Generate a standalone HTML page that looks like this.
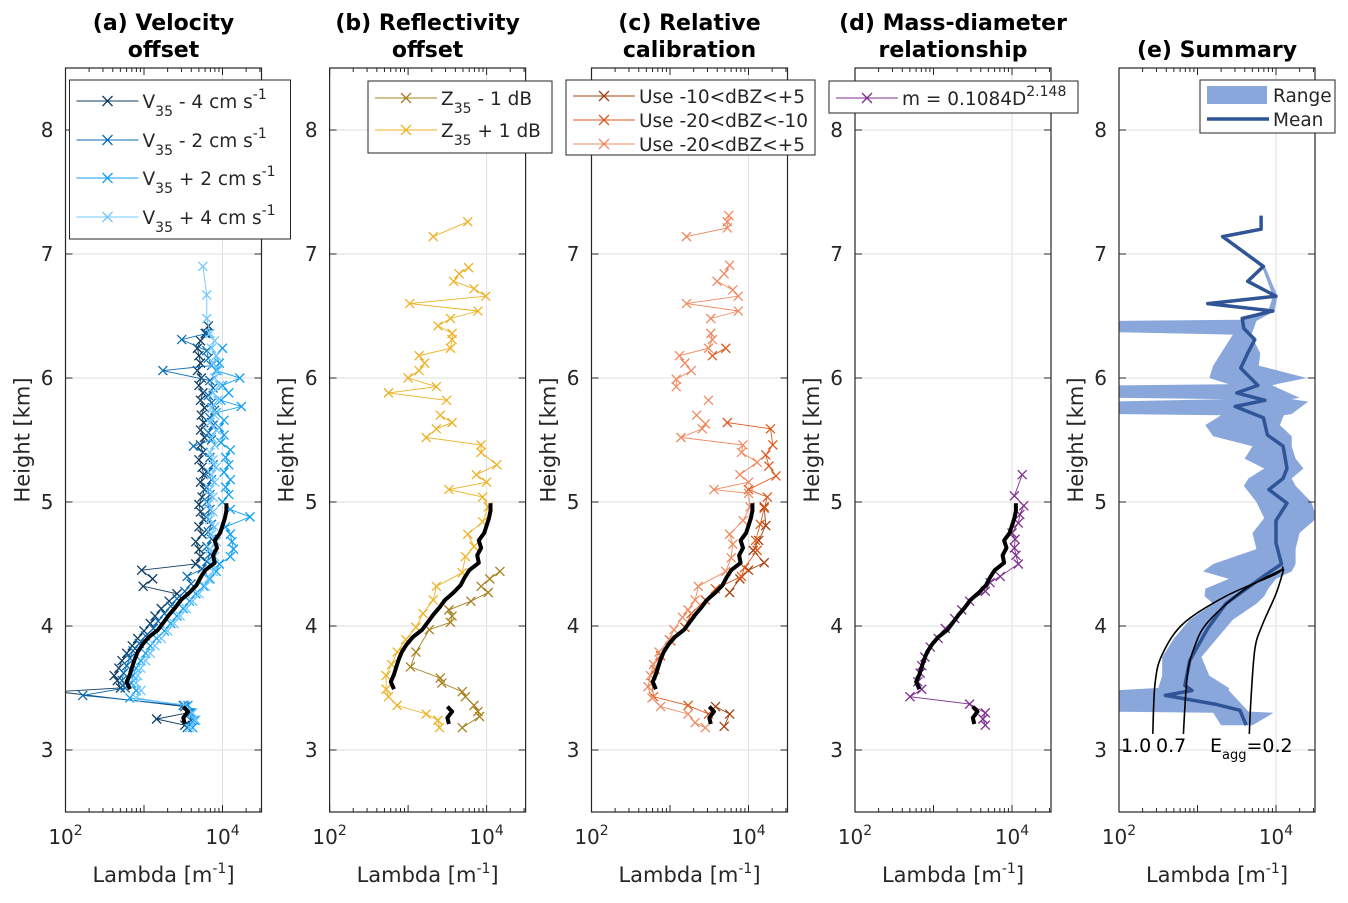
<!DOCTYPE html>
<html><head><meta charset="utf-8"><style>
html,body{margin:0;padding:0;background:#fff;}
svg text{font-family:"DejaVu Sans","Liberation Sans",sans-serif;fill:#262626;}
</style></head><body>
<svg id="fig" width="1348" height="898" viewBox="0 0 1348 898" xmlns="http://www.w3.org/2000/svg"></svg>
<script>
// ---------- data (log10 of Lambda [m^-1], height km) ----------
const meanLog = [2.82,2.78,2.82,2.85,2.88,2.92,2.98,3.06,3.18,3.25,3.32,3.40,3.47,3.58,3.67,3.72,3.78,3.90,3.88,3.93,3.90,3.97,4.00,4.03,4.05,4.05];
const meanH   = [3.49,3.55,3.61,3.67,3.73,3.79,3.85,3.91,3.97,4.03,4.09,4.15,4.21,4.27,4.33,4.39,4.45,4.51,4.57,4.63,4.69,4.75,4.81,4.87,4.93,4.99];
const meanLowLog = [3.52,3.50,3.56,3.50];
const meanLowH   = [3.21,3.26,3.31,3.35];

const velM4 = [[3.52,3.20],[3.16,3.25],[3.56,3.30],[3.52,3.35],[1.9,3.47],[2.70,3.50],[2.66,3.56],[2.62,3.60],[2.68,3.66],[2.72,3.72],[2.78,3.78],[2.85,3.84],[2.92,3.90],[3.00,3.96],[3.08,4.02],[3.14,4.08],[3.22,4.14],[3.32,4.20],[3.42,4.26],[2.99,4.32],[3.11,4.38],[2.97,4.45],[3.66,4.50],[3.72,4.56],[3.70,4.62],[3.66,4.68],[3.74,4.74],[3.70,4.80],[3.76,4.86],[3.72,4.92],[3.70,4.98],[3.74,5.04],[3.77,5.10],[3.72,5.16],[3.76,5.22],[3.74,5.28],[3.70,5.34],[3.75,5.40],[3.72,5.46],[3.77,5.52],[3.72,5.58],[3.76,5.64],[3.73,5.70],[3.77,5.76],[3.72,5.82],[3.75,5.88],[3.70,5.94],[3.73,6.00],[3.68,6.06],[3.72,6.12],[3.70,6.18],[3.68,6.24],[3.72,6.30],[3.78,6.36],[3.82,6.42]];
const velM2 = [[3.55,3.18],[3.60,3.24],[3.58,3.30],[3.50,3.36],[2.22,3.44],[2.76,3.50],[2.72,3.56],[2.74,3.62],[2.78,3.68],[2.82,3.74],[2.86,3.80],[2.94,3.86],[3.02,3.92],[3.12,3.98],[3.18,4.04],[3.26,4.10],[3.34,4.16],[3.42,4.22],[3.52,4.28],[3.60,4.34],[3.55,4.40],[3.74,4.46],[3.80,4.52],[3.84,4.58],[3.80,4.64],[3.86,4.70],[3.82,4.76],[3.86,4.82],[3.80,4.88],[3.84,4.94],[3.80,5.00],[3.84,5.06],[3.80,5.12],[3.86,5.18],[3.82,5.24],[3.88,5.30],[3.84,5.36],[3.63,5.45],[3.86,5.50],[3.82,5.56],[3.88,5.62],[3.84,5.68],[3.90,5.74],[3.86,5.80],[3.82,5.86],[3.88,5.92],[3.84,5.98],[3.24,6.06],[3.86,6.10],[3.82,6.16],[3.80,6.22],[3.48,6.31],[3.80,6.36]];
const velP2 = [[3.62,3.18],[3.64,3.24],[3.60,3.30],[3.56,3.36],[2.82,3.42],[2.90,3.48],[2.84,3.54],[2.86,3.60],[2.90,3.66],[2.96,3.72],[3.02,3.78],[3.08,3.84],[3.16,3.90],[3.26,3.96],[3.34,4.02],[3.42,4.08],[3.50,4.14],[3.58,4.20],[3.66,4.26],[3.76,4.32],[3.84,4.38],[3.92,4.44],[3.96,4.50],[4.10,4.56],[4.14,4.62],[4.12,4.68],[4.10,4.74],[4.04,4.80],[4.35,4.88],[4.10,4.94],[4.00,5.00],[4.08,5.06],[4.04,5.12],[4.10,5.18],[4.02,5.24],[4.08,5.30],[4.04,5.36],[4.10,5.42],[3.98,5.48],[4.02,5.54],[3.96,5.60],[4.02,5.66],[3.92,5.72],[4.24,5.77],[3.98,5.82],[4.08,5.88],[4.00,5.94],[4.22,6.00],[3.92,6.06],[3.96,6.12],[3.92,6.18],[4.00,6.24]];
const velP4 = [[3.58,3.18],[3.66,3.24],[3.62,3.30],[3.52,3.36],[2.90,3.42],[2.96,3.48],[2.90,3.54],[2.92,3.60],[2.96,3.66],[3.02,3.72],[3.08,3.78],[3.14,3.84],[3.22,3.90],[3.30,3.96],[3.38,4.02],[3.46,4.08],[3.54,4.14],[3.62,4.20],[3.70,4.26],[3.78,4.32],[3.82,4.38],[3.88,4.44],[3.86,4.50],[3.90,4.56],[3.84,4.62],[3.92,4.68],[3.86,4.74],[3.90,4.80],[3.84,4.86],[3.88,4.92],[3.82,4.98],[3.88,5.04],[3.84,5.10],[3.90,5.16],[3.86,5.22],[3.92,5.28],[3.88,5.34],[3.84,5.40],[3.90,5.46],[3.86,5.52],[3.92,5.58],[3.84,5.64],[3.90,5.70],[3.86,5.76],[3.94,5.82],[3.88,5.88],[3.96,5.94],[3.90,6.00],[3.94,6.06],[3.88,6.12],[3.92,6.18],[3.86,6.24],[3.90,6.30],[3.84,6.36],[3.80,6.48],[3.80,6.67],[3.75,6.90]];

const refM1 = [[4.17,4.44],[4.04,4.38],[3.93,4.32],[4.02,4.27],[3.80,4.20],[3.52,4.13],[3.56,4.08],[3.54,4.03],[3.27,3.97],[3.10,3.79],[3.03,3.67],[3.41,3.58],[3.43,3.54],[3.69,3.47],[3.73,3.43],[3.84,3.36],[3.89,3.31],[3.91,3.27],[3.69,3.18]];
const refP1 = [[3.76,7.26],[3.32,7.14],null,[3.77,6.89],[3.65,6.84],[3.58,6.78],[3.84,6.72],[3.99,6.66],[3.02,6.60],[3.89,6.54],[3.54,6.48],[3.38,6.42],[3.56,6.36],[3.56,6.31],[3.54,6.24],[3.14,6.18],[3.21,6.12],[3.14,6.06],[3.00,6.00],[3.36,5.93],[2.75,5.88],[3.49,5.82],null,[3.41,5.70],[3.56,5.64],[3.36,5.59],[3.23,5.52],[3.93,5.46],[3.93,5.40],[4.13,5.30],[3.87,5.22],[4.00,5.16],[3.52,5.10],[3.95,5.04],[4.02,4.96],[3.95,4.84],[3.76,4.74],[3.84,4.64],[3.73,4.56],[3.69,4.43],[3.36,4.32],[3.32,4.21],[3.19,4.10],[3.10,3.99],[2.97,3.89],[2.86,3.79],[2.79,3.69],[2.72,3.60],[2.72,3.49],[2.75,3.43],[2.86,3.36],[3.23,3.29],[3.38,3.24],[3.40,3.18]];

const calDark = [[4.20,4.96],[4.22,4.81],[4.13,4.69],[4.06,4.61],[4.20,4.51],[4.00,4.45],[3.89,4.38],[3.76,4.27],null,[3.58,3.35],[3.76,3.29],[3.69,3.19]];
const calMid = [[3.71,6.24],[3.54,6.18],null,[3.73,5.64],[4.28,5.59],[4.31,5.46],[4.22,5.38],[4.26,5.29],[4.35,5.21],[4.00,5.10],[4.24,5.04],[4.20,4.95],[4.15,4.82],[4.09,4.69],[4.11,4.61],[3.95,4.47],[3.91,4.40],[3.58,4.30],[3.45,4.21],[3.27,4.10],[3.19,3.99],[3.01,3.88],[2.88,3.76],[2.81,3.65],[2.77,3.54],[2.79,3.43],[3.23,3.36],[3.49,3.29]];
const calLight = [[3.75,7.31],[3.73,7.26],[3.73,7.21],[3.21,7.14],null,[3.76,6.91],[3.69,6.84],[3.60,6.78],[3.80,6.71],[3.87,6.66],[3.21,6.60],[3.87,6.54],[3.52,6.48],null,[3.52,6.36],[3.54,6.31],[3.49,6.24],[3.12,6.18],[3.19,6.12],[3.27,6.06],[3.08,5.99],[3.08,5.93],null,[3.49,5.82],null,[3.34,5.70],[3.45,5.63],[3.41,5.59],[3.14,5.52],[3.93,5.46],[3.91,5.40],[4.11,5.32],[3.89,5.22],[4.00,5.16],[3.56,5.10],[4.00,5.07],[4.02,4.96],[3.93,4.85],[3.76,4.74],[3.80,4.66],[3.78,4.55],[3.71,4.44],[3.36,4.32],[3.32,4.21],[3.23,4.13],[3.16,4.07],[3.05,3.97],[2.99,3.89],[2.86,3.79],[2.79,3.69],[2.75,3.60],[2.72,3.51],[2.77,3.42],[2.88,3.35],[3.23,3.29],[3.32,3.22],[3.45,3.18]];

const massDiam = [[4.13,5.22],[4.03,5.05],[4.15,4.97],[4.10,4.90],[4.08,4.83],[4.00,4.75],[4.04,4.70],[4.03,4.63],[4.05,4.57],[4.08,4.50],[3.85,4.40],[3.72,4.35],[3.66,4.28],[3.46,4.20],[3.36,4.13],[3.27,4.06],[3.15,3.98],[3.06,3.90],[2.96,3.83],[2.89,3.75],[2.85,3.68],[2.83,3.62],[2.80,3.55],[2.85,3.49],[2.70,3.43],[3.46,3.37],[3.66,3.30],[3.63,3.25],[3.66,3.20]];

const sumMeanH   = [7.31,7.20,7.14,6.90,6.78,6.66,6.60,6.54,6.48,6.40,6.31,6.20,6.08,5.94,5.88,5.82,5.77,5.68,5.54,5.45,5.27,5.19,5.10,4.99,4.85,4.67,4.50,4.41,4.18,3.98,3.72,3.52,3.48,3.44,3.37,3.32,3.20];
const sumMeanLog = [3.81,3.81,3.32,3.84,3.64,4.00,3.13,3.96,3.57,3.59,3.73,3.64,3.55,3.77,3.50,3.86,3.48,3.84,3.89,4.09,4.14,4.09,3.91,4.14,4.00,4.00,4.07,3.86,3.36,3.13,2.90,2.84,2.93,2.59,3.22,3.54,3.62];
const rangeH   = [6.90,6.66,6.54,6.47,6.46,6.37,6.35,6.20,6.10,6.00,5.95,5.94,5.84,5.83,5.81,5.71,5.70,5.62,5.53,5.45,5.35,5.27,5.19,5.13,5.00,4.87,4.75,4.62,4.50,4.44,4.38,4.30,4.24,4.18,4.05,3.90,3.75,3.60,3.50,3.48,3.31,3.30,3.20];
const rangeMin = [3.82,3.96,3.90,3.55,1.90,1.90,3.45,3.30,3.20,3.15,3.40,1.90,1.90,3.35,1.90,1.90,3.30,3.10,3.20,3.70,3.60,3.85,3.65,3.59,3.75,3.85,3.70,3.75,3.20,3.07,3.40,3.10,3.09,3.20,2.90,2.70,2.55,2.55,2.50,1.90,1.90,3.20,3.30];
const rangeMax = [3.86,4.02,3.98,3.78,3.75,3.70,3.68,3.80,3.78,4.39,4.00,3.95,4.30,4.20,4.41,4.20,4.10,4.05,4.20,4.20,4.25,4.35,4.20,4.25,4.45,4.52,4.30,4.25,4.25,4.20,4.00,3.90,3.85,3.75,3.45,3.25,3.05,3.15,3.40,3.40,3.65,3.97,3.70];
const eagg10 = [[4.48,4.09],[4.42,4.00],[4.24,3.36],[4.02,2.82],[3.77,2.55],[3.54,2.46],[3.13,2.43]];
const eagg07 = [[4.46,4.09],[4.29,3.59],[4.03,3.13],[3.83,2.96],[3.60,2.87],[3.13,2.82]];
const eagg02 = [[4.46,4.10],[4.26,4.00],[4.00,3.82],[3.81,3.73],[3.40,3.68],[3.13,3.66]];
const yTicks = [3,4,5,6,7,8];
const xTickLabels = ["2","4"];

// ---------- drawing ----------
const NS="http://www.w3.org/2000/svg";
const svg=document.getElementById('fig');
const TOP=68,BOT=812,W=196,DEC=78.5;
function mk(tag,at,parent){const e=document.createElementNS(NS,tag);for(const k in at)e.setAttribute(k,at[k]);(parent||svg).appendChild(e);return e;}
function xs(L){return lg=>L+(lg-2)*DEC;}
function ys(h){return 750-(h-3)*124;}

const panels=[
 {L:65.5,t1:"(a) Velocity",t2:"offset",id:"a"},
 {L:329.6,t1:"(b) Reflectivity",t2:"offset",id:"b"},
 {L:591.5,t1:"(c) Relative",t2:"calibration",id:"c"},
 {L:855,t1:"(d) Mass-diameter",t2:"relationship",id:"d"},
 {L:1119,t1:"(e) Summary",t2:"",id:"e"}];

function series(g,X,pts,color,name,lw){
  const sg=mk('g',{},g);
  
  
  let d='',pen=false;
  pts.forEach(p=>{if(!p){pen=false;return;}d+=(pen?'L':'M')+X(p[0]).toFixed(1)+','+ys(p[1]).toFixed(1);pen=true;});
  mk('path',{d:d,fill:'none',stroke:color,'stroke-width':lw||0.9},sg);
  pts.forEach(p=>{if(!p)return;const x=X(p[0]),y=ys(p[1]);
    const m=mk('path',{d:`M${x-4.5},${y-4.5}L${x+4.5},${y+4.5}M${x-4.5},${y+4.5}L${x+4.5},${y-4.5}`,stroke:color,'stroke-width':1.3},sg);
    
    });
}
function meanLine(g,X){
  const ml=mk('g',{},g);
  
  
  let d=meanLog.map((v,i)=>(i?'L':'M')+X(v).toFixed(1)+','+ys(meanH[i]).toFixed(1)).join('');
  d+=meanLowLog.map((v,i)=>(i?'L':'M')+X(v).toFixed(1)+','+ys(meanLowH[i]).toFixed(1)).join('');
  mk('path',{d:d,fill:'none',stroke:'#000','stroke-width':4,'stroke-linejoin':'round'},ml);
}
function smoothPath(pts){
  let d='M'+pts[0][0].toFixed(1)+','+pts[0][1].toFixed(1);
  for(let i=0;i<pts.length-1;i++){
    const p0=pts[Math.max(i-1,0)],p1=pts[i],p2=pts[i+1],p3=pts[Math.min(i+2,pts.length-1)];
    const c1=[p1[0]+(p2[0]-p0[0])/6,p1[1]+(p2[1]-p0[1])/6],c2=[p2[0]-(p3[0]-p1[0])/6,p2[1]-(p3[1]-p1[1])/6];
    d+=`C${c1[0].toFixed(1)},${c1[1].toFixed(1)} ${c2[0].toFixed(1)},${c2[1].toFixed(1)} ${p2[0].toFixed(1)},${p2[1].toFixed(1)}`;
  }
  return d;
}
function legend(x,y,w,h,entries,name){
  const g=mk('g',{});
  
  
  mk('rect',{x:x,y:y,width:w,height:h,fill:'#fff',stroke:'#262626','stroke-width':1},g);
  entries.forEach(e=>{
    const cy=e.y;
    if(e.patch){mk('rect',{x:x+7,y:cy-9,width:60,height:18,fill:'#8aa7dc'},g);}
    else{mk('line',{x1:x+7,y1:cy,x2:x+69,y2:cy,stroke:e.c,'stroke-width':e.lw||1},g);
      if(!e.noMark){const mx=x+38;mk('path',{d:`M${mx-5},${cy-5}L${mx+5},${cy+5}M${mx-5},${cy+5}L${mx+5},${cy-5}`,stroke:e.c,'stroke-width':1.3},g);}}
    const t=mk('text',{x:x+73,y:cy+7,'font-size':18.5},g);t.innerHTML=e.t;
  });
}

panels.forEach(p=>{
  const L=p.L,X=xs(L);
  const g=mk('g',{});
  
  
  mk('clipPath',{id:'clip'+p.id},g).appendChild(document.createElementNS(NS,'rect'));
  const cr=g.querySelector('clipPath rect');cr.setAttribute('x',L);cr.setAttribute('y',TOP);cr.setAttribute('width',W);cr.setAttribute('height',BOT-TOP);
  const grid=mk('g',{stroke:'#dfdfdf','stroke-width':1},g);
  
  
  yTicks.forEach(t=>mk('line',{x1:L,x2:L+W,y1:ys(t),y2:ys(t)},grid));
  mk('line',{x1:X(4),x2:X(4),y1:TOP,y2:BOT},grid);
  const dg=mk('g',{'clip-path':`url(#clip${p.id})`},g);
  if(p.id==='a'){series(dg,X,velM4,'#0f3d63','series-v35-minus4');series(dg,X,velM2,'#0a6db5','series-v35-minus2');series(dg,X,velP2,'#12a0f2','series-v35-plus2');series(dg,X,velP4,'#70c8ff','series-v35-plus4');meanLine(dg,X);}
  if(p.id==='b'){series(dg,X,refM1,'#a6801c','series-z35-minus1');series(dg,X,refP1,'#eeb224','series-z35-plus1');meanLine(dg,X);}
  if(p.id==='c'){series(dg,X,calDark,'#a3410f','series-cal-m10-p5');series(dg,X,calMid,'#dd5a1c','series-cal-m20-m10');series(dg,X,calLight,'#ef8a62','series-cal-m20-p5');meanLine(dg,X);}
  if(p.id==='d'){series(dg,X,massDiam,'#7e2f8e','series-mass-diameter');meanLine(dg,X);}
  if(p.id==='e'){
    let d='';rangeH.forEach((h,i)=>{d+=(i?'L':'M')+X(rangeMin[i]).toFixed(1)+','+ys(h).toFixed(1);});
    for(let i=rangeH.length-1;i>=0;i--)d+='L'+X(rangeMax[i]).toFixed(1)+','+ys(rangeH[i]).toFixed(1);
    const ra=mk('path',{d:d+'Z',fill:'#8aa7dc'},dg);
    
    
    const mp=mk('path',{d:sumMeanLog.map((v,i)=>(i?'L':'M')+X(v).toFixed(1)+','+ys(sumMeanH[i]).toFixed(1)).join(''),fill:'none',stroke:'#2f5597','stroke-width':3.5,'stroke-linejoin':'round'},dg);
    
    
    [eagg10,eagg07,eagg02].forEach((c,k)=>{
      const cp=mk('path',{d:smoothPath(c.map(q=>[X(q[1]),ys(q[0])])),fill:'none',stroke:'#000','stroke-width':1.6},dg);
      
      
    });
    const lt=mk('text',{x:1121,y:752,'font-size':19,style:'fill:#000'},g);lt.innerHTML='1.0';
    
    const lt2=mk('text',{x:1156,y:752,'font-size':19,style:'fill:#000'},g);lt2.innerHTML='0.7';
    const lt3=mk('text',{x:1210,y:752,'font-size':19,style:'fill:#000'},g);lt3.innerHTML='E<tspan font-size="13" dy="7">agg</tspan><tspan dy="-7">=0.2</tspan>';
  }
  mk('rect',{x:L,y:TOP,width:W,height:BOT-TOP,fill:'none',stroke:'#262626','stroke-width':1.2},g);
  const tk=mk('g',{stroke:'#262626','stroke-width':1},g);
  yTicks.forEach(t=>{const y=ys(t);mk('line',{x1:L,x2:L+7,y1:y,y2:y},tk);mk('line',{x1:L+W-7,x2:L+W,y1:y,y2:y},tk);
    const tt=mk('text',{x:L-12,y:y+7,'font-size':20,'text-anchor':'end'},g);tt.textContent=t;});
  for(let dec=2;dec<=4;dec++)for(let m=1;m<=9;m++){const lg=dec+Math.log10(m);if(lg>4.5)break;const x=X(lg);const len=(m===1)?7:4;
    mk('line',{x1:x,x2:x,y1:BOT,y2:BOT-len},tk);mk('line',{x1:x,x2:x,y1:TOP,y2:TOP+len},tk);}
  xTickLabels.forEach(e=>{const t=mk('text',{x:X(+e),y:844,'font-size':20,'text-anchor':'middle'},g);t.innerHTML='10<tspan dy="-9" font-size="14">'+e+'</tspan>';});
  const xl=mk('text',{x:L+W/2,y:882,'font-size':21,'text-anchor':'middle'},g);xl.innerHTML='Lambda [m<tspan dy="-9" font-size="14">-1</tspan><tspan dy="9">]</tspan>';
  
  const yl=mk('text',{x:0,y:0,'font-size':21,'text-anchor':'middle',transform:`translate(${L-36},${440}) rotate(-90)`},g);yl.textContent='Height [km]';
  
  const tt=mk('text',{x:L+W/2,y:p.t2?30:57,'font-size':22,'font-weight':'bold','text-anchor':'middle',style:'fill:#000'},g);tt.textContent=p.t1;
  
  if(p.t2){const t2=mk('text',{x:L+W/2,y:57,'font-size':22,'font-weight':'bold','text-anchor':'middle',style:'fill:#000'},g);t2.textContent=p.t2;}
});

const sub=s=>'<tspan dy="8" font-size="14">'+s+'</tspan><tspan dy="-8"> </tspan>';
const sup=s=>'<tspan dy="-9" font-size="14">'+s+'</tspan>';
legend(69.5,80,221,159,[
 {y:101,c:'#0f3d63',t:'V'+sub('35')+'- 4 cm s'+sup('-1')},
 {y:140,c:'#0a6db5',t:'V'+sub('35')+'- 2 cm s'+sup('-1')},
 {y:178,c:'#12a0f2',t:'V'+sub('35')+'+ 2 cm s'+sup('-1')},
 {y:217,c:'#70c8ff',t:'V'+sub('35')+'+ 4 cm s'+sup('-1')}],'legend-velocity');
legend(368,81,184,72,[
 {y:98,c:'#a6801c',t:'Z'+sub('35')+'- 1 dB'},
 {y:130,c:'#eeb224',t:'Z'+sub('35')+'+ 1 dB'}],'legend-reflectivity');
legend(566,80,249,75,[
 {y:96,c:'#a3410f',t:'Use -10&lt;dBZ&lt;+5'},
 {y:120,c:'#dd5a1c',t:'Use -20&lt;dBZ&lt;-10'},
 {y:144,c:'#ef8a62',t:'Use -20&lt;dBZ&lt;+5'}],'legend-calibration');
legend(829,81,249,32,[
 {y:98,c:'#7e2f8e',t:'m = 0.1084D'+sup('2.148')}],'legend-mass-diameter');
legend(1200,80,135,53,[
 {y:95,patch:true,t:'Range'},
 {y:119,c:'#2f5597',lw:3.5,noMark:true,t:'Mean'}],'legend-summary');
</script>
</body></html>
